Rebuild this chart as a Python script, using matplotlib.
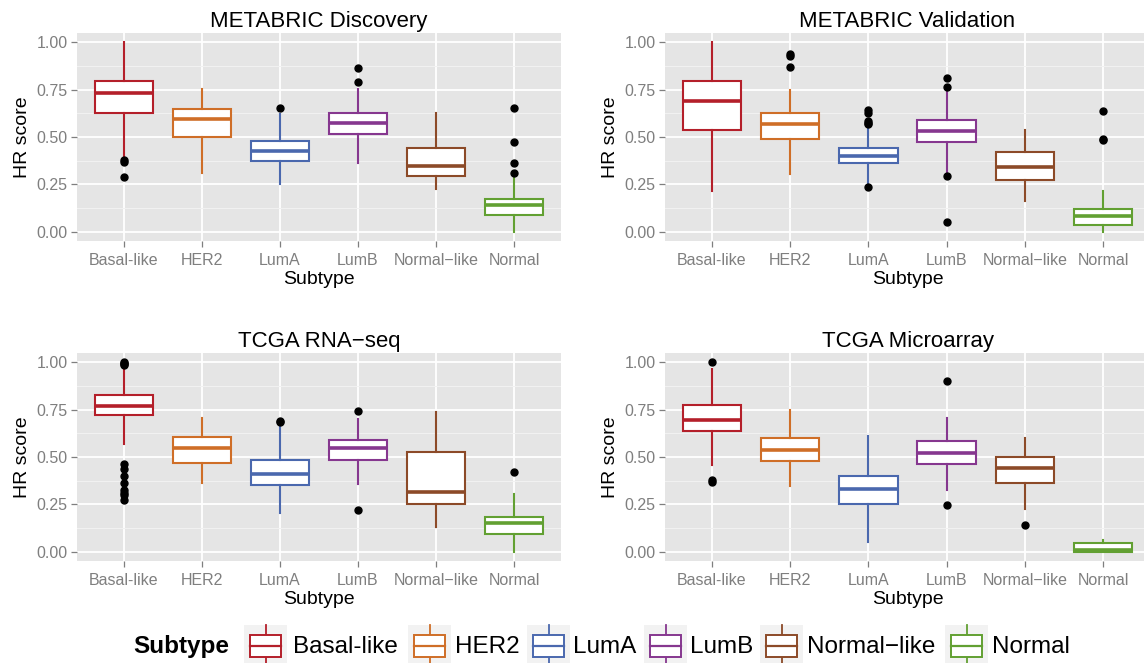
import numpy as np
import matplotlib
matplotlib.use("Agg")
import matplotlib.pyplot as plt
from matplotlib.patches import Rectangle

plt.rcParams['font.family'] = ['Liberation Sans', 'DejaVu Sans']

subtypes = ["Basal-like", "HER2", "LumA", "LumB", "Normal\u2212like", "Normal"]
colors = ["#B41F2A", "#CF6E27", "#4A68AE", "#86378F", "#8C4A28", "#62A032"]

# METABRIC Discovery
disc_whislo = [0.385, 0.312, 0.254, 0.363, 0.223, 0.0]
disc_q1 = [0.628, 0.502, 0.371, 0.518, 0.296, 0.089]
disc_med = [0.732, 0.594, 0.427, 0.576, 0.346, 0.138]
disc_q3 = [0.794, 0.649, 0.480, 0.629, 0.441, 0.174]
disc_whishi = [1.0, 0.752, 0.619, 0.754, 0.629, 0.287]
disc_fliers = [[0.376, 0.370, 0.289], [], [0.656], [0.865, 0.793], [],
               [0.654, 0.475, 0.360, 0.312]]

# METABRIC Validation
val_whislo = [0.216, 0.303, 0.250, 0.305, 0.163, 0.0]
val_q1 = [0.537, 0.489, 0.362, 0.472, 0.271, 0.037]
val_med = [0.690, 0.567, 0.402, 0.534, 0.339, 0.082]
val_q3 = [0.796, 0.628, 0.441, 0.589, 0.420, 0.117]
val_whishi = [1.0, 0.748, 0.553, 0.752, 0.539, 0.213]
val_fliers = [[], [0.940, 0.930, 0.871], [0.642, 0.629, 0.587, 0.575, 0.567, 0.238],
              [0.812, 0.764, 0.294, 0.051], [], [0.638, 0.491, 0.486]]

# TCGA RNA-seq
rna_whislo = [0.571, 0.363, 0.206, 0.356, 0.128, 0.0]
rna_q1 = [0.720, 0.468, 0.353, 0.486, 0.254, 0.092]
rna_med = [0.771, 0.550, 0.410, 0.546, 0.314, 0.152]
rna_q3 = [0.826, 0.605, 0.482, 0.589, 0.528, 0.183]
rna_whishi = [0.979, 0.704, 0.667, 0.702, 0.736, 0.305]
rna_fliers = [[1.0, 0.996, 0.990, 0.985, 0.465, 0.438, 0.399, 0.362, 0.326, 0.312, 0.301, 0.270],
              [], [0.691, 0.683], [0.745, 0.218], [], [0.422]]

# TCGA Microarray
arr_whislo = [0.459, 0.344, 0.053, 0.323, 0.223, 0.0]
arr_q1 = [0.640, 0.480, 0.252, 0.463, 0.363, 0.0]
arr_med = [0.695, 0.535, 0.332, 0.523, 0.441, 0.009]
arr_q3 = [0.777, 0.599, 0.402, 0.585, 0.500, 0.043]
arr_whishi = [0.966, 0.748, 0.610, 0.707, 0.598, 0.059]
arr_fliers = [[1.0, 0.376, 0.369], [], [], [0.901, 0.246], [0.142], []]

panels = [
    ("METABRIC Discovery", disc_whislo, disc_q1, disc_med, disc_q3, disc_whishi, disc_fliers),
    ("METABRIC Validation", val_whislo, val_q1, val_med, val_q3, val_whishi, val_fliers),
    ("TCGA RNA\u2212seq", rna_whislo, rna_q1, rna_med, rna_q3, rna_whishi, rna_fliers),
    ("TCGA Microarray", arr_whislo, arr_q1, arr_med, arr_q3, arr_whishi, arr_fliers),
]

W, H = 1144, 663
fig = plt.figure(figsize=(W / 100, H / 100), dpi=100)

# panel rectangles in pixels: left, top, right, bottom
boxes_px = [(77, 33, 561, 241), (665, 33, 1150, 241),
            (77, 353, 561, 561), (665, 353, 1150, 561)]

grey = "#7F7F7F"
for (title, lo, q1, med, q3, hi, fl), (l, t, r, b) in zip(panels, boxes_px):
    ax = fig.add_axes([l / W, 1 - b / H, (r - l) / W, (b - t) / H])
    ax.set_facecolor("#E5E5E5")
    for s in ax.spines.values():
        s.set_visible(False)
    for i in range(len(subtypes)):
        st = [dict(whislo=lo[i], q1=q1[i], med=med[i], q3=q3[i], whishi=hi[i],
                   fliers=np.array(fl[i]))]
        c = colors[i]
        ax.bxp(st, positions=[i + 1], widths=0.75, patch_artist=True,
               showcaps=False,
               boxprops=dict(facecolor="white", edgecolor=c, linewidth=1.5),
               medianprops=dict(color=c, linewidth=2.6, solid_capstyle="butt"),
               whiskerprops=dict(color=c, linewidth=1.5),
               flierprops=dict(marker="o", markerfacecolor="black",
                               markeredgecolor="black", markersize=5))
    ax.set_xlim(0.4, 6.6)
    ax.set_ylim(-0.05, 1.05)
    ax.set_xticks(range(1, 7))
    ax.set_xticklabels(subtypes)
    ax.set_yticks([0, 0.25, 0.5, 0.75, 1.0])
    ax.set_yticklabels(["0.00", "0.25", "0.50", "0.75", "1.00"])
    ax.set_yticks([0.125, 0.375, 0.625, 0.875], minor=True)
    ax.set_axisbelow(True)
    ax.grid(which="major", color="white", linewidth=1.3)
    ax.grid(which="minor", axis="y", color="#F2F2F2", linewidth=0.7)
    ax.tick_params(which="major", length=4.3, width=0.9, color=grey,
                   labelcolor=grey, labelsize=11.5, pad=2.5)
    ax.tick_params(axis="x", which="major", pad=4)
    ax.tick_params(which="minor", length=0)
    ax.set_title(title, fontsize=16, pad=4)
    ax.set_xlabel("Subtype", fontsize=14, labelpad=2.5)
    ax.set_ylabel("HR score", fontsize=14, labelpad=4)

# legend strip drawn in pixel space
lax = fig.add_axes([0, 0, 1, 1], zorder=-1)
lax.set_xlim(0, W)
lax.set_ylim(H, 0)
lax.axis("off")
lax.text(133, 647, "Subtype", fontsize=17.5, fontweight="bold", va="center", ha="left")
key_x = [244, 408, 527, 644, 760, 945]
lab_x = [293, 455, 573, 690, 807, 992]
for i, name in enumerate(subtypes):
    k = key_x[i]
    c = colors[i]
    lax.add_patch(Rectangle((k, 625), 43, 43, facecolor="#F2F2F2", edgecolor="none"))
    lax.plot([k + 21.5, k + 21.5], [625, 668], color=c, linewidth=1.3, zorder=2)
    lax.add_patch(Rectangle((k + 6, 635), 31, 22, facecolor="white", edgecolor=c,
                            linewidth=1.4, zorder=3))
    lax.plot([k + 6, k + 37], [646, 646], color=c, linewidth=1.6, zorder=4)
    lax.text(lab_x[i], 647, name, fontsize=17.5, va="center", ha="left")

fig.savefig("out.png", dpi=100)
